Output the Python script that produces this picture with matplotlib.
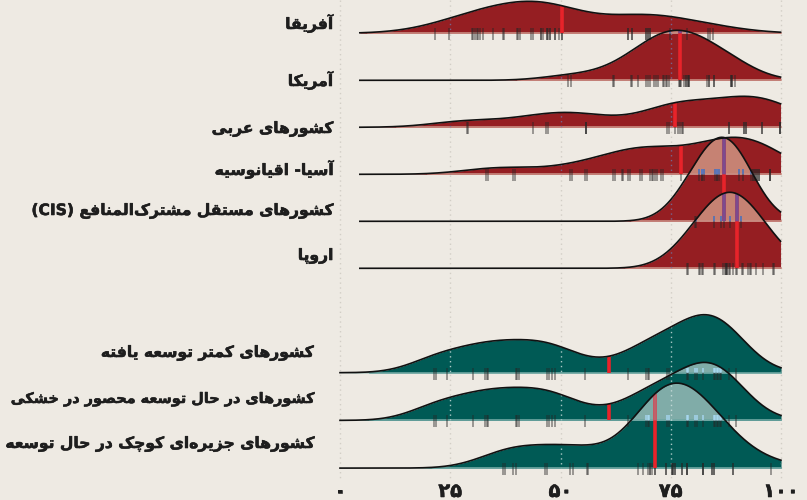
import re
import numpy as np
import matplotlib
matplotlib.use("Agg")
import matplotlib.pyplot as plt
import matplotlib.patheffects as pe
from matplotlib.path import Path

# ---- data (score 0-100, one value per country) ----
# ticks that sit on top of each other (dark clusters, under the red lines,
# at the 100 edge) are estimated as repeated values
region_names = ['آفریقا', 'آمریکا', 'کشورهای عربی', 'آسیا- اقیانوسیه',
                'کشورهای مستقل مشترک\u200cالمنافع (CIS)', 'اروپا']
group_names = ['کشورهای کمتر توسعه یافته',
               'کشورهای در حال توسعه محصور در خشکی',
               'کشورهای جزیره\u200cای کوچک در حال توسعه']

africa = [21.5, 24.8, 29.9, 30.2, 30.6, 31.0, 31.4, 31.7, 32.5, 34.6, 36.9, 37.2,
          40.1, 40.4, 40.8, 43.3, 43.8, 45.5, 45.5, 46.0, 46.9, 46.9, 47.2, 47.6,
          47.6, 48.8, 48.8, 49.7, 50.3, 50.3, 65.2, 65.2, 66.1, 66.1, 69.4, 69.4,
          69.8, 69.8, 70.3, 70.3, 74.8, 78.6, 83.5, 83.9, 84.5]
america = [51.8, 52.3, 61.8, 62.2, 65.9, 66.3, 67.6, 69.5, 69.9, 70.3, 71.2, 71.6,
           72.0, 73.2, 73.5, 73.9, 74.2, 74.7, 76.9, 77.2, 77.2, 77.3, 77.9, 78.5,
           78.5, 78.8, 78.8, 79.2, 79.2, 83.3, 83.7, 83.7, 84.8, 84.8, 88.6, 88.6,
           89.0, 89.0, 89.6]
arab = [28.7, 29.1, 43.7, 46.6, 47.1, 55.7, 55.7, 55.7, 74.1, 74.5, 76.0, 76.7,
        77.1, 77.5, 77.8, 88.1, 88.1, 91.6, 91.6, 92.1, 92.1, 95.8, 95.8, 99.8,
        99.8, 99.8]
asia_pacific = [33.1, 33.5, 39.3, 39.7, 52.2, 52.5, 55.6, 55.9, 62.0, 62.4, 63.9,
                64.2, 65.4, 65.8, 68.0, 68.4, 70.3, 70.7, 71.0, 71.4, 71.8, 72.9,
                73.3, 77.4, 81.5, 82.0, 82.0, 82.5, 85.0, 85.6, 85.6, 86.0, 87.1,
                87.1, 87.1, 87.1, 90.5, 91.3, 93.3, 93.7, 93.7, 94.1, 94.1, 94.5,
                94.5, 94.9, 94.9, 97.4, 97.4, 97.4]
cis = [80.5, 80.7, 84.9, 86.5, 87.1, 88.4, 90.1, 91.0]
europe = [78.6, 79.0, 81.3, 81.6, 82.0, 82.4, 84.7, 85.0, 86.8, 87.3, 87.5, 87.5,
          87.8, 87.8, 88.1, 88.4, 89.2, 89.9, 90.1, 91.1, 91.3, 92.6, 93.0, 93.2,
          94.3, 95.9, 98.1, 98.4]
ldc = [21.4, 21.8, 24.3, 30.1, 32.9, 33.3, 33.6, 39.9, 40.2, 40.6, 46.9, 47.5,
       48.0, 48.8, 55.6, 65.4, 69.4, 69.8, 70.1, 74.1, 74.5, 78.6, 79.0, 80.5,
       80.9, 82.2, 84.7, 85.0, 85.4, 85.8, 86.2, 86.5, 88.1, 89.9]
lldc = [21.4, 21.8, 24.3, 30.1, 32.9, 33.3, 33.6, 39.9, 40.2, 40.6, 46.9, 47.5,
        48.0, 48.8, 55.6, 65.4, 69.4, 69.8, 70.1, 74.1, 74.5, 78.6, 79.0, 80.5,
        80.9, 82.2, 84.7, 85.0, 85.4, 85.8, 86.2, 86.5, 88.1, 89.9]
sids = [36.9, 37.4, 39.3, 39.8, 46.5, 47.0, 52.2, 52.8, 55.9, 56.3, 67.6, 68.6,
        69.9, 70.3, 70.3, 70.7, 71.4, 71.4, 73.9, 73.9, 75.2, 75.2, 75.6, 75.6,
        76.0, 76.0, 77.5, 77.5, 78.6, 78.6, 78.6, 82.4, 82.4, 82.4, 84.3, 84.3,
        84.7, 84.7, 89.2, 89.2, 97.7]

region_means = [50.3, 77.2, 76.0, 77.4, 87.1, 90.1]
group_means = [61.0, 61.0, 71.4]

x_ticks = [0, 25, 50, 75, 100]
x_tick_labels = ['۰', '۲۵', '۵۰', '۷۵', '۱۰۰']

# ---- look ----
BG = '#EEEAE3'
PX_PER_UNIT = 4.41
X0_PX = 340
MEAN_RED = '#E8232A'
FONT = 'DejaVu Sans'
LABEL_SIZE = 11.2
INK = '#1E1E1E'
BOLDER = [pe.withStroke(linewidth=0.4, foreground=INK)]

red_style = dict(fill='#951E22', light='#C68273', base='#C98C82', grid='#6F78A8',
                 tick='#262626', tick_over='#5A78C0', mean_over='#7B4C8E')
teal_style = dict(fill='#005A55', light='#80ACA8', base='#6FA7A3', grid='#D4E4E2',
                  tick='#262626', tick_over='#A9DCF2', mean_over='#C0606A')


# minimal Persian shaping (presentation forms) + right-to-left ordering
DUAL = {'ب': 0xFE8F, 'پ': 0xFB56, 'ت': 0xFE95, 'ج': 0xFE9D, 'چ': 0xFB7A,
        'ح': 0xFEA1, 'خ': 0xFEA5, 'س': 0xFEB1, 'ش': 0xFEB5, 'ص': 0xFEB9,
        'ع': 0xFEC9, 'ف': 0xFED1, 'ق': 0xFED5, 'ک': 0xFB8E, 'ل': 0xFEDD,
        'م': 0xFEE1, 'ن': 0xFEE5, 'ه': 0xFEE9, 'ی': 0xFBFC}
RIGHT = {'ا': 0xFE8D, 'آ': 0xFE81, 'د': 0xFEA9, 'ر': 0xFEAD, 'ز': 0xFEAF,
         'و': 0xFEED}


def shape(text):
    out = []
    for i, c in enumerate(text):
        if c not in DUAL and c not in RIGHT:
            out.append(c)
            continue
        prev = text[i - 1] if i > 0 else ''
        nxt = text[i + 1] if i + 1 < len(text) else ''
        joins_prev = prev in DUAL
        joins_next = c in DUAL and (nxt in DUAL or nxt in RIGHT)
        if c in RIGHT:
            out.append(chr(RIGHT[c] + (1 if joins_prev else 0)))
        else:
            form = 3 if (joins_prev and joins_next) else 1 if joins_prev else 2 if joins_next else 0
            out.append(chr(DUAL[c] + form))
    return ''.join(out).replace('\u200c', '')


def rtl(text):
    s = shape(text)[::-1]
    s = re.sub(r'[A-Za-z0-9]+', lambda m: m.group(0)[::-1], s)
    return s.translate(str.maketrans('()', ')('))


def draw_section(ax, series, means, names, peaks, bws, base0, gap, start,
                 style, label_x, label_y):
    xs = np.arange(start, 100.0001, 0.2)
    bases = [base0 + gap * i for i in range(len(series))]
    tops = []
    for vals, bw, pk, b in zip(series, bws, peaks, bases):
        v = np.asarray(vals)
        dens = np.exp(-0.5 * ((xs[:, None] - v[None, :]) / bw) ** 2).sum(axis=1)
        tops.append(b - dens / dens.max() * pk)

    fill_paths = []
    for b, top in zip(bases, tops):
        pc = ax.fill_between(xs, top, b, color=style['fill'], lw=0, zorder=2)
        fill_paths += pc.get_paths()

    # where two ridges overlap the colour turns light
    over_paths = []
    for i in range(len(series) - 1):
        b = bases[i]
        hi = np.maximum(tops[i], tops[i + 1])
        pc = ax.fill_between(xs, hi, b, where=tops[i + 1] < b, interpolate=True,
                             color=style['light'], lw=0, zorder=3)
        over_paths += pc.get_paths()
    fill_clip = Path.make_compound_path(*fill_paths)
    over_clip = Path.make_compound_path(*over_paths)

    for b, top in zip(bases, tops):
        m = (b - top) > 0.8
        ax.plot(xs[m], np.full(m.sum(), b), color=style['base'], lw=1.2, zorder=3)

    gl = ax.vlines(x_ticks, bases[0] - 100, bases[-1] + 2, colors=style['grid'],
                   linestyles=(0, (1, 2.5)), lw=1.0, alpha=0.8, zorder=4)
    gl.set_clip_path(fill_clip, ax.transData)

    # rug
    for vals, b in zip(series, bases):
        ax.vlines(vals, b - 5, b + 7, colors=style['tick'], lw=1.2, alpha=0.5, zorder=5)
        t = ax.vlines(vals, b - 5, b + 7, colors=style['tick_over'], lw=1.2, zorder=6)
        t.set_clip_path(over_clip, ax.transData)

    for mval, b, top in zip(means, bases, tops):
        ytop = np.interp(mval, xs, top)
        ax.vlines(mval, ytop, b, colors=MEAN_RED, lw=2.6, zorder=7)
        mo = ax.vlines(mval, ytop, b, colors=style['mean_over'], lw=2.6, zorder=7.5)
        mo.set_clip_path(over_clip, ax.transData)

    for top in tops:
        ax.plot(xs, top, color='#111111', lw=1.2, zorder=8)

    texts = []
    for name, y in zip(names, label_y):
        texts.append(ax.text(label_x, y, rtl(name), ha='right', va='baseline',
                             fontsize=LABEL_SIZE, fontweight='bold', family=FONT,
                             color=INK, zorder=9, path_effects=BOLDER))
    return texts


fig = plt.figure(figsize=(8.07, 5.0), dpi=100)
fig.patch.set_facecolor(BG)
ax = fig.add_axes([0, 0, 1, 1])
ax.set_facecolor(BG)
ax.set_xlim(-X0_PX / PX_PER_UNIT, (807 - X0_PX) / PX_PER_UNIT)
ax.set_ylim(500, 0)
ax.axis('off')

ax.vlines(x_ticks, 0, 478, colors='#D2CEC6', linestyles=(0, (1, 2.5)), lw=1.0, zorder=1)

labels = draw_section(ax, [africa, america, arab, asia_pacific, cis, europe],
                      region_means, region_names,
                      peaks=[32, 50, 31, 37, 84, 76], bws=[9, 6.5, 8, 7.5, 5.5, 6],
                      base0=33.3, gap=47, start=4.5, style=red_style,
                      label_x=(333 - X0_PX) / PX_PER_UNIT,
                      label_y=[29, 86, 133, 175, 215, 260])

labels += draw_section(ax, [ldc, lldc, sids], group_means, group_names,
                       peaks=[58, 58, 85], bws=[6.5, 6.5, 7], base0=372.7, gap=47.7,
                       start=0, style=teal_style,
                       label_x=(313 - X0_PX) / PX_PER_UNIT,
                       label_y=[357, 403, 448])

for v, lab in zip(x_ticks, x_tick_labels):
    ax.text(v, 497, lab, ha='center', va='baseline', fontsize=14, fontweight='bold',
            family=FONT, color=INK, path_effects=BOLDER)

# keep the long labels inside the canvas
renderer = fig.canvas.get_renderer()
for t in labels:
    while t.get_window_extent(renderer).x0 < 3 and t.get_fontsize() > 8:
        t.set_fontsize(t.get_fontsize() - 0.2)

fig.savefig('out.png', dpi=100, facecolor=BG)
